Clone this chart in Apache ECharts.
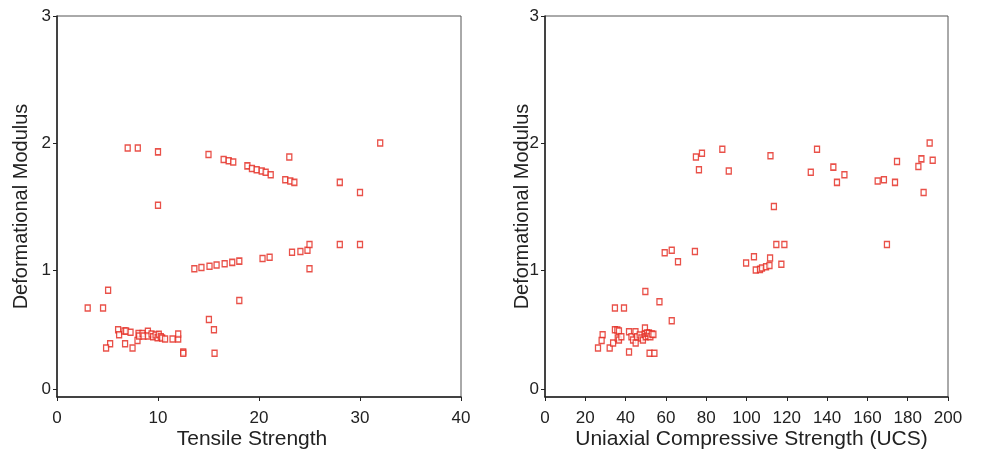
<!DOCTYPE html>
<html>
<head>
<meta charset="utf-8">
<script src="https://cdn.jsdelivr.net/npm/echarts@6/dist/echarts.min.js"></script>
<style>
  html, body { margin: 0; padding: 0; background: #fff; }
  #chart { width: 982px; height: 452px; }
</style>
</head>
<body>
<div id="chart"></div>
<script>
// left panel: tensile strength vs deformational modulus
var tensileStrength = [
  7.0, 8.0, 10.0, 15.0, 16.5, 17.0, 17.45, 18.85, 19.3, 19.77, 20.27, 20.66, 21.16, 22.6, 23.1, 23.5,
  23.0, 28.0, 30.0, 32.0, 10.0,
  13.6, 14.3, 15.1, 15.8, 16.6, 17.35, 18.05, 20.35, 21.05, 23.27, 24.1, 24.8, 25.0, 25.0, 28.0, 30.0,
  18.05, 15.04, 15.54, 12.5, 12.5, 15.6,
  5.06, 3.04, 4.56, 6.05, 6.15, 6.68, 6.84, 7.28, 5.26, 4.86, 6.74, 7.48, 7.97,
  8.07, 8.13, 8.47, 8.57, 9.0, 9.0, 9.36, 9.52, 9.76, 9.96, 10.08, 10.28, 10.41, 10.7, 11.44, 12.0, 12.0
];
var modulusLeft = [
  1.96, 1.96, 1.93, 1.91, 1.87, 1.86, 1.85, 1.82, 1.80, 1.79, 1.78, 1.77, 1.75, 1.71, 1.70, 1.69,
  1.89, 1.69, 1.61, 2.0, 1.51,
  1.01, 1.02, 1.03, 1.04, 1.05, 1.06, 1.07, 1.09, 1.10, 1.14, 1.145, 1.155, 1.2, 1.01, 1.2, 1.2,
  0.76, 0.61, 0.53, 0.355, 0.345, 0.345,
  0.84, 0.70, 0.70, 0.53, 0.49, 0.52, 0.52, 0.51, 0.42, 0.385, 0.42, 0.385, 0.445,
  0.50, 0.48, 0.50, 0.48, 0.518, 0.48, 0.496, 0.474, 0.488, 0.467, 0.493, 0.474, 0.464, 0.457, 0.457, 0.457, 0.496
];

// right panel: UCS vs deformational modulus
var ucs = [
  74.9, 77.9, 88.0, 76.4, 91.2, 59.4, 62.9, 74.4, 66.0, 99.8,
  111.9, 135.0, 131.9, 143.1, 148.6, 144.9, 165.1, 168.2, 173.7, 174.7, 185.3, 186.8, 190.9, 192.4, 187.9,
  113.6, 114.8, 118.8, 169.7, 103.7, 111.7, 104.6, 106.7, 107.7, 109.7, 111.4, 117.3,
  49.8, 56.8, 62.9, 34.7, 39.2, 28.6, 28.1, 26.3, 32.1, 33.8, 34.7, 35.9, 36.7, 36.1, 36.7, 37.9,
  41.7, 41.7, 42.9, 43.7, 44.9, 45.0, 45.7, 47.0, 47.8, 48.6, 49.6, 49.5, 50.0, 50.6, 51.1, 51.6,
  52.3, 53.0, 53.8, 51.9, 54.3
];
var modulusRight = [
  1.89, 1.92, 1.95, 1.79, 1.78, 1.135, 1.155, 1.145, 1.065, 1.055,
  1.90, 1.95, 1.77, 1.81, 1.75, 1.69, 1.70, 1.71, 1.69, 1.855, 1.815, 1.875, 2.0, 1.865, 1.61,
  1.50, 1.2, 1.2, 1.2, 1.105, 1.095, 1.0, 1.005, 1.015, 1.025, 1.035, 1.045,
  0.83, 0.75, 0.60, 0.70, 0.70, 0.49, 0.445, 0.385, 0.385, 0.425, 0.53, 0.528, 0.52, 0.464, 0.449, 0.474,
  0.513, 0.355, 0.474, 0.449, 0.513, 0.425, 0.474, 0.488, 0.464, 0.449, 0.543, 0.493, 0.474, 0.503, 0.48, 0.503,
  0.474, 0.496, 0.493, 0.345, 0.345
];

var yTicks = [0, 1, 2, 3];

function zip(xs, ys) {
  return xs.map(function(x, i) { return [x, ys[i]]; });
}

var font = 'Liberation Sans';
var red = '#e3261b';

function xAxis(grid, max, interval, name, namePad) {
  return {
    type: 'value',
    gridIndex: grid,
    min: 0,
    max: max,
    interval: interval,
    name: name,
    nameLocation: 'middle',
    nameGap: 32,
    nameMoveOverlap: false,
    nameTextStyle: { fontFamily: font, fontSize: 21, color: '#222', padding: namePad },
    axisLine: { onZero: false, lineStyle: { color: '#222', width: 1.5 } },
    axisTick: { length: 4, lineStyle: { color: '#222' } },
    axisLabel: { fontFamily: font, fontSize: 17, color: '#222', margin: 13 },
    splitLine: { show: false }
  };
}

function yAxis(grid, gap) {
  return {
    type: 'value',
    gridIndex: grid,
    min: 0,
    max: 3,
    name: 'Deformational Modulus',
    nameLocation: 'middle',
    nameGap: gap,
    nameMoveOverlap: false,
    nameTextStyle: { fontFamily: font, fontSize: 20, color: '#222' },
    axisLine: { onZero: false, lineStyle: { color: '#222', width: 1.5 } },
    // the 0 tick and label sit a little above the bottom of the frame
    axisTick: { length: 4, customValues: [0.06, 1, 2, 3], lineStyle: { color: '#222' } },
    axisLabel: {
      fontFamily: font, fontSize: 17, color: '#222', margin: 6,
      customValues: [0.06, 1, 2, 3],
      formatter: function(v) { return String(Math.round(v)); }
    },
    splitLine: { show: false }
  };
}

function scatter(i, data) {
  return {
    type: 'scatter',
    xAxisIndex: i,
    yAxisIndex: i,
    symbol: 'rect',
    symbolSize: [5, 6],
    data: data,
    itemStyle: { color: '#fff', borderColor: red, borderWidth: 1.4 }
  };
}

var chart = echarts.init(document.getElementById('chart'));
chart.setOption({
  animation: false,
  backgroundColor: '#fff',
  grid: [
    { left: 57, top: 16, width: 404, height: 381, outerBoundsMode: 'none', show: true, borderColor: '#555', borderWidth: 1 },
    { left: 545, top: 16, width: 403, height: 381, outerBoundsMode: 'none', show: true, borderColor: '#555', borderWidth: 1 }
  ],
  xAxis: [
    xAxis(0, 40, 10, 'Tensile Strength', [0, 14, 0, 0]),
    xAxis(1, 200, 20, 'Uniaxial Compressive Strength (UCS)', [0, 0, 0, 10])
  ],
  yAxis: [yAxis(0, 26), yAxis(1, 13)],
  series: [
    scatter(0, zip(tensileStrength, modulusLeft)),
    scatter(1, zip(ucs, modulusRight))
  ]
});
</script>
</body>
</html>
